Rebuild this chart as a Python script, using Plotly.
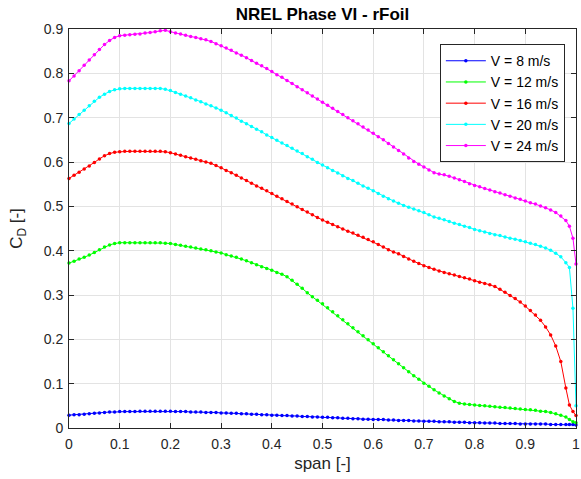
import plotly.graph_objects as go

span = [0.00, 0.01, 0.02, 0.03, 0.04, 0.05, 0.06, 0.07, 0.08, 0.09, 0.10,
        0.11, 0.12, 0.13, 0.14, 0.15, 0.16, 0.17, 0.18, 0.19, 0.20,
        0.21, 0.22, 0.23, 0.24, 0.25, 0.26, 0.27, 0.28, 0.29, 0.30,
        0.31, 0.32, 0.33, 0.34, 0.35, 0.36, 0.37, 0.38, 0.39, 0.40,
        0.41, 0.42, 0.43, 0.44, 0.45, 0.46, 0.47, 0.48, 0.49, 0.50,
        0.51, 0.52, 0.53, 0.54, 0.55, 0.56, 0.57, 0.58, 0.59, 0.60,
        0.61, 0.62, 0.63, 0.64, 0.65, 0.66, 0.67, 0.68, 0.69, 0.70,
        0.71, 0.72, 0.73, 0.74, 0.75, 0.76, 0.77, 0.78, 0.79, 0.80,
        0.81, 0.82, 0.83, 0.84, 0.85, 0.86, 0.87, 0.88, 0.89, 0.90,
        0.91, 0.92, 0.93, 0.94, 0.95, 0.96, 0.97, 0.98,
        0.987, 0.994, 1.0]

cd_v8 = [0.029, 0.030, 0.030, 0.031, 0.032, 0.033, 0.034, 0.035, 0.036, 0.036, 0.037,
         0.037, 0.037, 0.037, 0.038, 0.038, 0.038, 0.038, 0.038, 0.038, 0.038,
         0.037, 0.037, 0.037, 0.036, 0.036, 0.036, 0.035, 0.035, 0.035, 0.034,
         0.034, 0.033, 0.033, 0.032, 0.032, 0.031, 0.031, 0.030, 0.030, 0.029,
         0.029, 0.028, 0.028, 0.027, 0.027, 0.026, 0.026, 0.025, 0.025, 0.024,
         0.024, 0.023, 0.023, 0.022, 0.022, 0.021, 0.021, 0.020, 0.020, 0.019,
         0.019, 0.019, 0.018, 0.018, 0.017, 0.017, 0.017, 0.016, 0.016, 0.015,
         0.015, 0.015, 0.014, 0.014, 0.014, 0.013, 0.013, 0.013, 0.012, 0.012,
         0.012, 0.011, 0.011, 0.011, 0.010, 0.010, 0.010, 0.010, 0.009, 0.009,
         0.009, 0.009, 0.009, 0.009, 0.008, 0.008, 0.008, 0.008,
         0.008, 0.008, 0.007]

cd_v12 = [0.372, 0.376, 0.381, 0.385, 0.390, 0.396, 0.402, 0.408, 0.413, 0.416, 0.418,
          0.418, 0.418, 0.418, 0.418, 0.418, 0.418, 0.418, 0.418, 0.417, 0.416,
          0.414, 0.412, 0.410, 0.408, 0.406, 0.404, 0.402, 0.400, 0.397, 0.395,
          0.391, 0.388, 0.385, 0.381, 0.377, 0.373, 0.368, 0.364, 0.360, 0.356,
          0.351, 0.347, 0.341, 0.333, 0.324, 0.315, 0.305, 0.296, 0.288, 0.280,
          0.271, 0.262, 0.253, 0.244, 0.235, 0.226, 0.217, 0.208, 0.199, 0.190,
          0.181, 0.172, 0.163, 0.154, 0.145, 0.136, 0.127, 0.118, 0.110, 0.101,
          0.094, 0.086, 0.079, 0.072, 0.066, 0.060, 0.056, 0.054, 0.053, 0.052,
          0.051, 0.050, 0.049, 0.048, 0.047, 0.046, 0.045, 0.044, 0.043, 0.042,
          0.041, 0.040, 0.038, 0.037, 0.035, 0.032, 0.029, 0.025,
          0.019, 0.014, 0.012]

cd_v16 = [0.563, 0.570, 0.577, 0.584, 0.591, 0.599, 0.607, 0.614, 0.619, 0.622, 0.623,
          0.624, 0.624, 0.624, 0.624, 0.624, 0.624, 0.624, 0.624, 0.623, 0.621,
          0.618, 0.615, 0.612, 0.609, 0.606, 0.603, 0.600, 0.597, 0.592, 0.587,
          0.581, 0.576, 0.570, 0.564, 0.558, 0.552, 0.546, 0.541, 0.535, 0.529,
          0.523, 0.517, 0.511, 0.505, 0.499, 0.493, 0.487, 0.481, 0.475, 0.469,
          0.464, 0.459, 0.454, 0.449, 0.444, 0.440, 0.435, 0.430, 0.425, 0.420,
          0.414, 0.408, 0.402, 0.397, 0.393, 0.387, 0.381, 0.376, 0.371, 0.366,
          0.362, 0.358, 0.354, 0.351, 0.348, 0.345, 0.342, 0.339, 0.336, 0.332,
          0.329, 0.326, 0.323, 0.319, 0.313, 0.306, 0.299, 0.292, 0.284, 0.275,
          0.265, 0.255, 0.243, 0.228, 0.210, 0.185, 0.150, 0.090,
          0.052, 0.037, 0.028]

cd_v20 = [0.687, 0.697, 0.707, 0.717, 0.727, 0.737, 0.746, 0.753, 0.759, 0.763, 0.765,
          0.766, 0.766, 0.766, 0.766, 0.766, 0.766, 0.766, 0.766, 0.764, 0.761,
          0.757, 0.753, 0.749, 0.745, 0.740, 0.736, 0.731, 0.727, 0.722, 0.717,
          0.711, 0.705, 0.699, 0.692, 0.686, 0.680, 0.674, 0.668, 0.661, 0.655,
          0.649, 0.643, 0.637, 0.631, 0.625, 0.619, 0.612, 0.606, 0.599, 0.593,
          0.587, 0.581, 0.575, 0.569, 0.563, 0.558, 0.552, 0.546, 0.541, 0.535,
          0.529, 0.523, 0.517, 0.512, 0.507, 0.502, 0.498, 0.494, 0.490, 0.486,
          0.481, 0.476, 0.473, 0.470, 0.466, 0.462, 0.459, 0.455, 0.452, 0.448,
          0.445, 0.442, 0.439, 0.436, 0.434, 0.431, 0.428, 0.426, 0.423, 0.420,
          0.417, 0.414, 0.410, 0.406, 0.401, 0.394, 0.386, 0.373,
          0.362, 0.270, 0.050]

cd_v24 = [0.783, 0.794, 0.806, 0.818, 0.830, 0.842, 0.854, 0.865, 0.874, 0.881, 0.885,
          0.886, 0.887, 0.888, 0.889, 0.891, 0.892, 0.894, 0.896, 0.897, 0.894,
          0.891, 0.889, 0.886, 0.883, 0.881, 0.878, 0.876, 0.872, 0.867, 0.862,
          0.857, 0.852, 0.846, 0.841, 0.835, 0.829, 0.823, 0.817, 0.811, 0.804,
          0.797, 0.791, 0.784, 0.777, 0.770, 0.763, 0.756, 0.749, 0.742, 0.735,
          0.728, 0.721, 0.714, 0.707, 0.700, 0.693, 0.686, 0.679, 0.672, 0.665,
          0.657, 0.650, 0.642, 0.634, 0.626, 0.618, 0.609, 0.601, 0.595, 0.589,
          0.582, 0.576, 0.573, 0.571, 0.568, 0.564, 0.560, 0.556, 0.551, 0.547,
          0.544, 0.540, 0.537, 0.533, 0.530, 0.526, 0.523, 0.519, 0.516, 0.512,
          0.508, 0.505, 0.501, 0.497, 0.492, 0.486, 0.478, 0.468,
          0.455, 0.428, 0.370]

series_names = ["V = 8 m/s", "V = 12 m/s", "V = 16 m/s", "V = 20 m/s", "V = 24 m/s"]
series_values = [cd_v8, cd_v12, cd_v16, cd_v20, cd_v24]
series_colors = ["#0000ff", "#00ff00", "#ff0000", "#00ffff", "#ff00ff"]

FONT = "Liberation Sans, Arial, Helvetica, sans-serif"
AX = "#262626"

fig = go.Figure()
for name, vals, col in zip(series_names, series_values, series_colors):
    fig.add_trace(go.Scatter(
        x=span, y=vals, name=name, mode="lines+markers",
        line=dict(color=col, width=1),
        marker=dict(color=col, size=3.5, symbol="circle"),
        cliponaxis=False,
    ))

axis_common = dict(
    showline=True, linecolor=AX, linewidth=1, mirror="ticks",
    ticks="inside", ticklen=5, tickcolor=AX, tickwidth=1,
    showgrid=True, gridcolor="#e3e3e3", gridwidth=1,
    zeroline=False, automargin=False,
    tickfont=dict(family=FONT, size=14, color=AX),
)

fig.update_layout(
    width=581, height=479,
    margin=dict(l=69, r=5, t=29, b=51, autoexpand=False),
    paper_bgcolor="white", plot_bgcolor="white",
    title=dict(text="<b>NREL Phase VI - rFoil</b>", x=(69 + 507 / 2) / 581, xanchor="center",
               y=1 - 14 / 479, yanchor="middle",
               font=dict(family=FONT, size=17, color="black")),
    xaxis=dict(range=[0, 1], dtick=0.1, tick0=0, ticklabelstandoff=3,
               title=dict(text="span [-]", font=dict(family=FONT, size=17, color=AX), standoff=6),
               **axis_common),
    yaxis=dict(range=[0, 0.9], dtick=0.1, tick0=0, ticklabelstandoff=2,
               title=dict(text="C<sub>D</sub> [-]", font=dict(family=FONT, size=17, color=AX), standoff=16),
               **axis_common),
    legend=dict(x=0.978, y=0.962, xanchor="right", yanchor="top",
                bgcolor="white", bordercolor=AX, borderwidth=1,
                font=dict(family=FONT, size=14, color="black"),
                itemwidth=40, tracegroupgap=0),
    showlegend=True,
)

fig.write_html("out.html", config={"displayModeBar": False},
               post_script="document.body.style.margin='0';document.body.style.padding='0';")
